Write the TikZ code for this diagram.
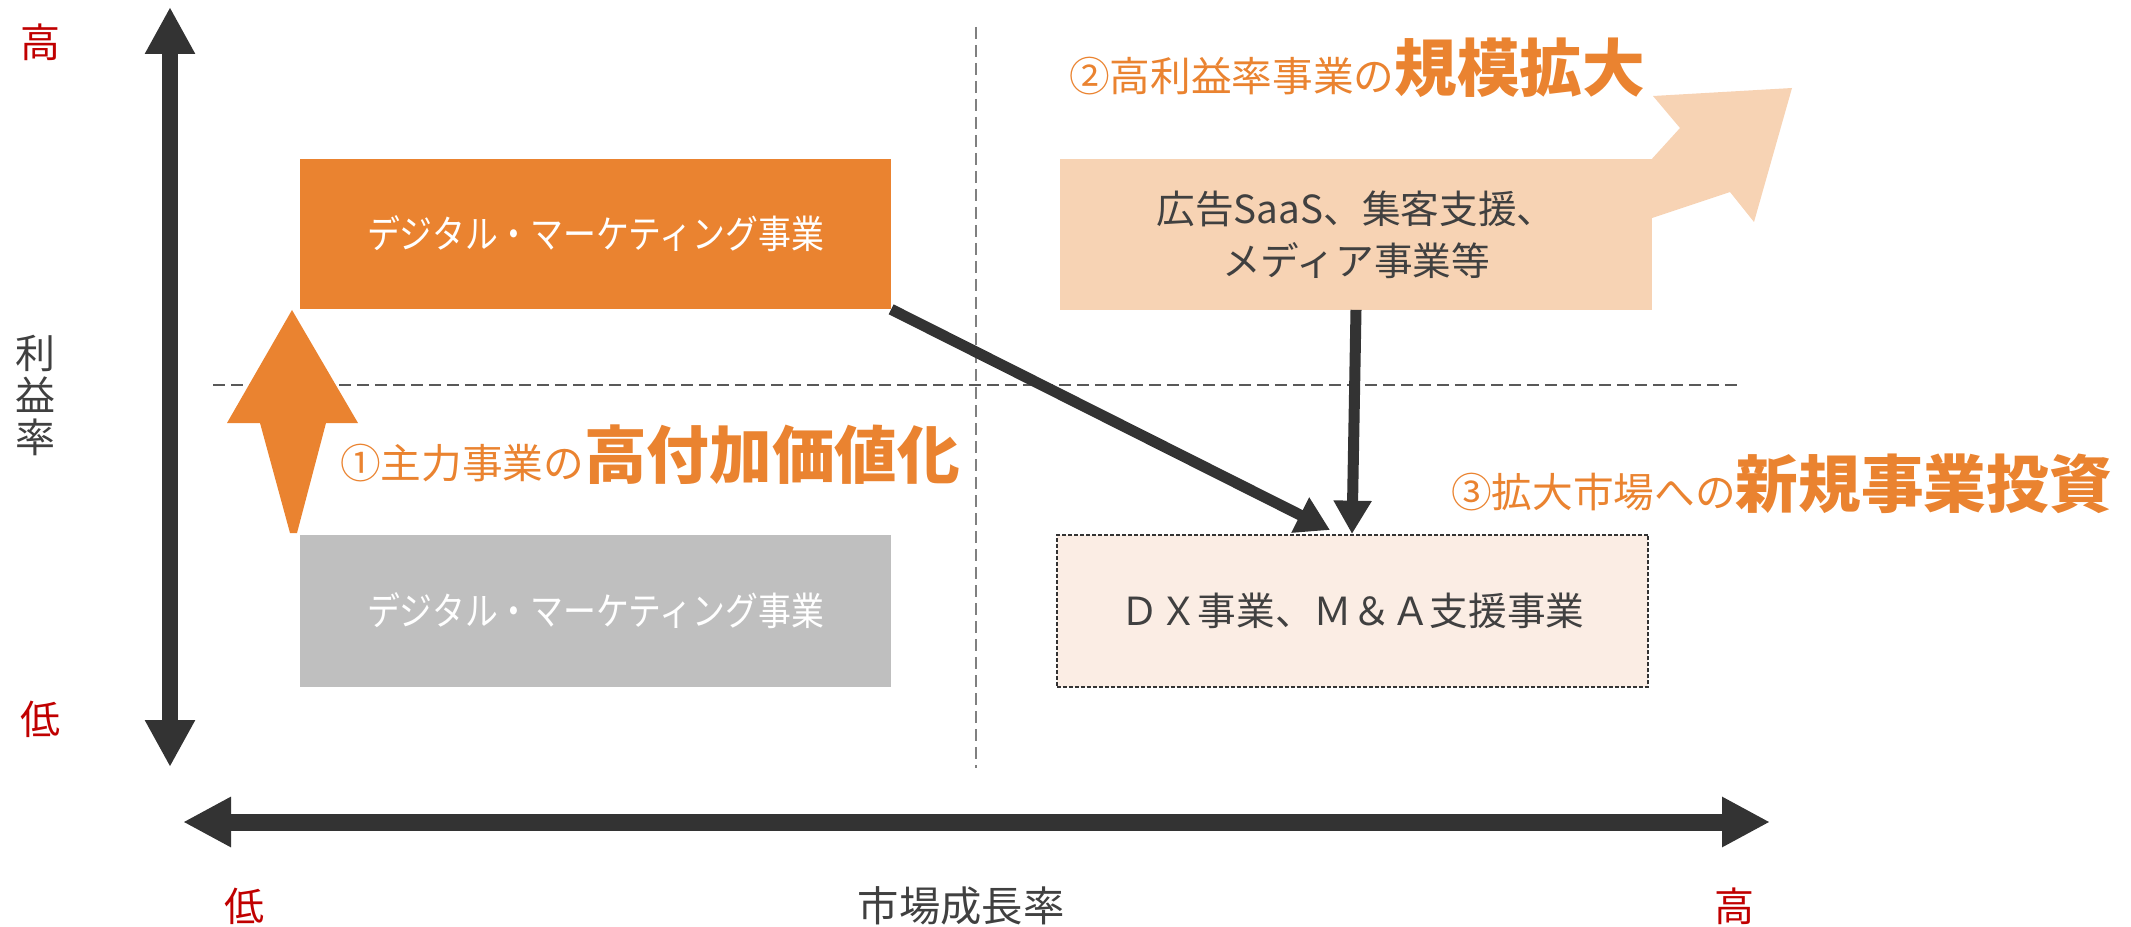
\documentclass[tikz,border=0pt]{standalone}
\usepackage{fontspec}
\setmainfont{Noto Sans CJK JP}
\newfontfamily\jpc[FakeStretch=0.85]{Noto Sans CJK JP}
\usetikzlibrary{arrows.meta}
\definecolor{dark}{HTML}{333333}
\definecolor{txt}{HTML}{404040}
\definecolor{redlab}{HTML}{C00000}
\definecolor{org}{RGB}{234,131,48}
\definecolor{peach}{RGB}{247,211,180}
\definecolor{dxfill}{RGB}{251,237,228}
\definecolor{grayb}{HTML}{BFBFBF}
\begin{document}
\begin{tikzpicture}[x=0.75pt,y=-0.75pt,
  bigbox/.style={inner sep=0pt, outer sep=0pt, minimum width=443.5pt, minimum height=113pt, align=center},
  axislab/.style={inner sep=0pt, font=\fontsize{30pt}{36pt}\selectfont},
  conn/.style={draw=dark, line width=8.25pt, -{Triangle[length=25pt,width=28pt]}},
  gridline/.style={line width=1.5pt, dash pattern=on 9pt off 4.5pt}
]
\useasboundingbox (0,0) rectangle (2131,927);

% dashed quadrant lines
\draw[gridline, draw=black!50] (976,27) -- (976,768);
\draw[gridline, draw=black!65] (213,385) -- (1740,385);

% axes
\coordinate (ytop) at (170,7);
\coordinate (ybot) at (170,767);
\coordinate (xl) at (183,822);
\coordinate (xr) at (1770,822);
\draw[dark, line width=12pt, {Triangle[length=35.25pt,width=35.25pt]}-{Triangle[length=35.25pt,width=35.25pt]}] (ytop) -- (ybot);
\draw[dark, line width=12.75pt, {Triangle[length=36pt,width=35.25pt]}-{Triangle[length=36pt,width=35.25pt]}] (xl) -- (xr);

% axis labels
\node[axislab, text=redlab] (yhigh) at (41,42) {高};
\node[axislab, text=redlab] (ylow) at (41,719) {低};
\node[axislab, text=txt, align=center, font=\fontsize{30pt}{31.5pt}\selectfont] (ylab) at (36,395) {利\\益\\率};
\node[axislab, text=redlab] (xlow) at (244,906) {低};
\node[axislab, text=txt, font=\fontsize{31pt}{36pt}\selectfont] (xlab) at (961,906) {市場成長率};
\node[axislab, text=redlab] (xhigh) at (1734,906) {高};

% orange up arrow
\fill[org] (292,310) -- (358,423) -- (326,423) -- (297,533) -- (290,533) -- (260,423) -- (227,423) -- cycle;

% peach growth arrow
\fill[peach] (1640,172) -- (1680,128) -- (1653,96) -- (1792,88) -- (1754,222) -- (1730,192) -- (1640,222) -- cycle;

% boxes
\node[bigbox, fill=org, text=white, font=\jpc\fontsize{29pt}{34pt}\selectfont] (dm) at (595.5,234) {デジタル・マーケティング事業};
\node[bigbox, fill=grayb, text=white, minimum height=114pt, font=\jpc\fontsize{29pt}{34pt}\selectfont] (dmold) at (595.5,611) {デジタル・マーケティング事業};
\node[bigbox, fill=peach, text=txt, minimum width=444pt, font=\fontsize{29pt}{39pt}\selectfont] (saas) at (1356,234.5) {広告SaaS、集客支援、\\メディア事業等};
\node[bigbox, fill=dxfill, text=txt, minimum height=114pt, draw=dark, line width=1.5pt, dash pattern=on 3pt off 1.5pt, font=\fontsize{29pt}{34pt}\selectfont] (dx) at (1352.5,611) {ＤＸ事業、Ｍ＆Ａ支援事業};

% connectors
\coordinate (dxin1) at (1330,530);
\coordinate (dxin2) at (1352,534);
\draw[conn] (dm.south east) -- (dxin1);
\draw[conn, -{Triangle[length=25pt,width=27pt]}] (saas.south) -- (dxin2);

% headline labels
\node[anchor=base west, inner sep=0pt, text=org] (lab1) at (340,478) {\fontsize{30.5pt}{36pt}\selectfont ①主力事業の\fontsize{47pt}{56pt}\selectfont\bfseries 高付加価値化};
\node[anchor=base west, inner sep=0pt, text=org] (lab2) at (1069,92) {\fontsize{30.5pt}{36pt}\selectfont ②高利益率事業の\fontsize{47pt}{56pt}\selectfont\bfseries 規模拡大};
\node[anchor=base west, inner sep=0pt, text=org] (lab3) at (1451,507) {\fontsize{30.5pt}{36pt}\selectfont ③拡大市場への\fontsize{47pt}{56pt}\selectfont\bfseries 新規事業投資};
\end{tikzpicture}
\end{document}
